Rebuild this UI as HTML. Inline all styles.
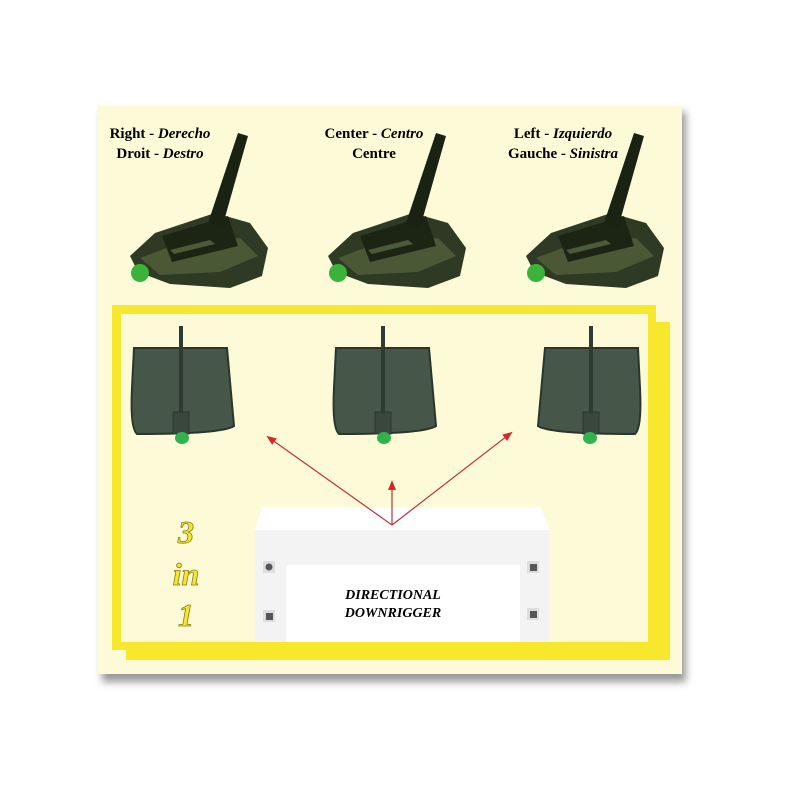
<!DOCTYPE html>
<html><head><style>body{margin:0;background:#fff}svg{display:block}text{font-family:"Liberation Serif",serif;font-weight:bold}</style></head><body>
<svg width="800" height="800" viewBox="0 0 800 800">
<defs>
<filter id="sh" x="-10%" y="-10%" width="120%" height="120%"><feGaussianBlur stdDeviation="4"/></filter>
<marker id="ar" markerWidth="10" markerHeight="10" refX="8" refY="5" orient="auto" markerUnits="userSpaceOnUse"><path d="M0,1 L10,5 L0,9 Z" fill="#d8262c"/></marker>
<g id="top3d">
<path d="M-70,28 L-45,5 L15,-15 L50,-5 L68,20 L62,48 L30,60 L-30,56 L-62,44 Z" fill="#2e3a24"/>
<path d="M-60,30 L-20,15 L40,10 L58,28 L20,44 L-40,47 Z" fill="#4a5836"/>
<path d="M-38,8 L28,-12 L38,18 L-28,34 Z" fill="#1c2514"/>
<path d="M8,-5 L38,-95 L48,-92 L22,0 Z" fill="#1a2313"/>
<path d="M-30,22 L10,12 L15,16 L-26,26 Z" fill="#4b5a38"/>
<circle cx="-60" cy="45" r="9" fill="#3bb33b"/>
</g>
<g id="sink">
<path d="M-48,-40 L45,-40 L52,38 Q40,46 -45,46 Q-52,40 -50,0 Z" fill="#46574a" stroke="#2a362c" stroke-width="2"/>
<rect x="-3" y="-62" width="4" height="100" fill="#2f3b31"/>
<rect x="-9" y="24" width="16" height="22" fill="#3a483c" stroke="#2a362c"/>
<ellipse cx="0" cy="50" rx="7" ry="6" fill="#2fb34a"/>
</g>
</defs>
<rect x="102" y="112" width="584" height="570" fill="#999" filter="url(#sh)"/>
<rect x="98" y="106" width="584" height="568" fill="#fdfbd7"/>
<text x="160" y="138" font-size="15" text-anchor="middle">Right - <tspan font-style="italic">Derecho</tspan></text>
<text x="160" y="158" font-size="15" text-anchor="middle">Droit - <tspan font-style="italic">Destro</tspan></text>
<text x="374" y="138" font-size="15" text-anchor="middle">Center - <tspan font-style="italic">Centro</tspan></text>
<text x="374" y="158" font-size="15" text-anchor="middle">Centre</text>
<text x="563" y="138" font-size="15" text-anchor="middle">Left - <tspan font-style="italic">Izquierdo</tspan></text>
<text x="563" y="158" font-size="15" text-anchor="middle">Gauche - <tspan font-style="italic">Sinistra</tspan></text>
<use href="#top3d" transform="translate(200,228)"/>
<use href="#top3d" transform="translate(398,228)"/>
<use href="#top3d" transform="translate(596,228)"/>
<rect x="126" y="322" width="544" height="338" fill="#f7e82e"/>
<rect x="112" y="305" width="544" height="345" fill="#f7e82e"/>
<rect x="121" y="314" width="527" height="328" fill="#fdfbd7"/>
<use href="#sink" transform="translate(182,388)"/>
<use href="#sink" transform="translate(384,388)"/>
<use href="#sink" transform="translate(590,388) scale(-1,1)"/>
<path d="M262,507 L540,507 L550,530 L255,530 Z" fill="#fff"/>
<rect x="255" y="530" width="294" height="112" fill="#f3f3f3"/>
<rect x="286" y="565" width="234" height="77" fill="#fff"/>
<rect x="263" y="561" width="12" height="12" fill="#ddd"/><circle cx="269" cy="567" r="3.5" fill="#555"/>
<rect x="263" y="610" width="12" height="12" fill="#ddd"/><rect x="266" y="613" width="7" height="7" fill="#555"/>
<rect x="527" y="561" width="12" height="12" fill="#ddd"/><rect x="530" y="564" width="7" height="7" fill="#555"/>
<rect x="527" y="608" width="12" height="12" fill="#ddd"/><rect x="530" y="611" width="7" height="7" fill="#555"/>
<text x="393" y="599" font-size="14" font-style="italic" text-anchor="middle">DIRECTIONAL</text>
<text x="393" y="617" font-size="14" font-style="italic" text-anchor="middle">DOWNRIGGER</text>
<g stroke="#c0303a" stroke-width="1.2" marker-end="url(#ar)">
<line x1="392" y1="525" x2="268" y2="437"/>
<line x1="392" y1="525" x2="511" y2="433"/>
<line x1="392" y1="525" x2="392" y2="482"/>
</g>
<g font-size="32" font-style="italic" fill="#f5e53a" stroke="#8a7d10" stroke-width="0.8" text-anchor="middle">
<text x="186" y="543">3</text><text x="186" y="585">in</text><text x="186" y="626">1</text>
</g>
</svg>
</body></html>
